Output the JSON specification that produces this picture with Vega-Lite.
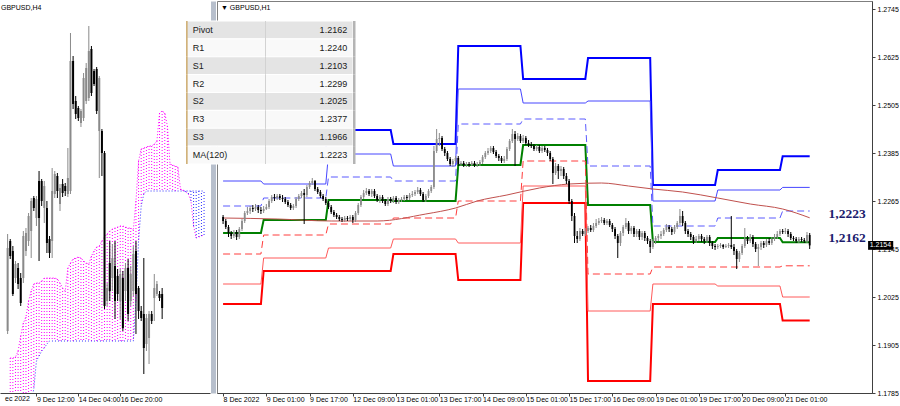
{
"$schema": "https://vega.github.io/schema/vega-lite/v6.json",
"padding": {"left": 0, "right": 0, "top": 0, "bottom": 0},
"background": "#ffffff",
"spacing": 7,
"bounds": "flush",
"config": {
  "font": "Liberation Sans",
  "view": {"stroke": null},
  "axis": {"labelFont": "Liberation Sans", "labelFontSize": 7, "labelColor": "#000000", "domainColor": "#404040", "tickColor": "#404040", "domainWidth": 1, "tickWidth": 1, "grid": false}
},
"datasets": {
"h4": [
{"j":-11,"o":1.2150,"h":1.2247,"l":1.2147,"c":1.2233},
{"j":-10,"o":1.2240,"h":1.2242,"l":1.2222,"c":1.2225},
{"j":-9,"o":1.2230,"h":1.2235,"l":1.2185,"c":1.2187},
{"j":-8,"o":1.2203,"h":1.2220,"l":1.2198,"c":1.2217},
{"j":-7,"o":1.2213,"h":1.2218,"l":1.2192,"c":1.2197},
{"j":-6,"o":1.2203,"h":1.2208,"l":1.2175,"c":1.2178},
{"j":-5,"o":1.2203,"h":1.2250,"l":1.2198,"c":1.2245},
{"j":-4,"o":1.2230,"h":1.2253,"l":1.2225,"c":1.2248},
{"j":-3,"o":1.2240,"h":1.2268,"l":1.2235,"c":1.2265},
{"j":-2,"o":1.2250,"h":1.2283,"l":1.2223,"c":1.2280},
{"j":-1,"o":1.2283,"h":1.2285,"l":1.2270,"c":1.2273},
{"j":0,"o":1.2263,"h":1.2285,"l":1.2255,"c":1.2282},
{"j":1,"o":1.2300,"h":1.2310,"l":1.2220,"c":1.2263},
{"j":2,"o":1.2300,"h":1.2302,"l":1.2275,"c":1.2280},
{"j":3,"o":1.2273,"h":1.2300,"l":1.2258,"c":1.2295},
{"j":4,"o":1.2273,"h":1.2280,"l":1.2228,"c":1.2238},
{"j":5,"o":1.2242,"h":1.2245,"l":1.2223,"c":1.2228},
{"j":6,"o":1.2240,"h":1.2313,"l":1.2223,"c":1.2290},
{"j":7,"o":1.2287,"h":1.2310,"l":1.2283,"c":1.2307},
{"j":8,"o":1.2305,"h":1.2308,"l":1.2283,"c":1.2290},
{"j":9,"o":1.2277,"h":1.2297,"l":1.2270,"c":1.2293},
{"j":10,"o":1.2297,"h":1.2302,"l":1.2284,"c":1.2288},
{"j":11,"o":1.2295,"h":1.2298,"l":1.2285,"c":1.2290},
{"j":12,"o":1.2287,"h":1.2333,"l":1.2284,"c":1.2303},
{"j":13,"o":1.2290,"h":1.2448,"l":1.2287,"c":1.2420},
{"j":14,"o":1.2420,"h":1.2425,"l":1.2372,"c":1.2377},
{"j":15,"o":1.2380,"h":1.2385,"l":1.2362,"c":1.2367},
{"j":16,"o":1.2373,"h":1.2375,"l":1.2360,"c":1.2363},
{"j":17,"o":1.2358,"h":1.2372,"l":1.2354,"c":1.2370},
{"j":18,"o":1.2363,"h":1.2408,"l":1.2360,"c":1.2403},
{"j":19,"o":1.2380,"h":1.2418,"l":1.2377,"c":1.2413},
{"j":20,"o":1.2383,"h":1.2455,"l":1.2380,"c":1.2430},
{"j":21,"o":1.2432,"h":1.2435,"l":1.2385,"c":1.2388},
{"j":22,"o":1.2410,"h":1.2412,"l":1.2395,"c":1.2397},
{"j":23,"o":1.2412,"h":1.2414,"l":1.2367,"c":1.2370},
{"j":24,"o":1.2350,"h":1.2405,"l":1.2303,"c":1.2403},
{"j":25,"o":1.2350,"h":1.2352,"l":1.2305,"c":1.2328},
{"j":26,"o":1.2328,"h":1.2330,"l":1.2172,"c":1.2175},
{"j":27,"o":1.2180,"h":1.2198,"l":1.2175,"c":1.2193},
{"j":28,"o":1.2218,"h":1.2240,"l":1.2180,"c":1.2190},
{"j":29,"o":1.2203,"h":1.2237,"l":1.2190,"c":1.2223},
{"j":30,"o":1.2215,"h":1.2240,"l":1.2162,"c":1.2180},
{"j":31,"o":1.2205,"h":1.2212,"l":1.2180,"c":1.2187},
{"j":32,"o":1.2180,"h":1.2212,"l":1.2162,"c":1.2207},
{"j":33,"o":1.2203,"h":1.2210,"l":1.2150,"c":1.2153},
{"j":34,"o":1.2190,"h":1.2218,"l":1.2180,"c":1.2213},
{"j":35,"o":1.2213,"h":1.2222,"l":1.2160,"c":1.2167},
{"j":36,"o":1.2180,"h":1.2215,"l":1.2175,"c":1.2207},
{"j":37,"o":1.2190,"h":1.2235,"l":1.2185,"c":1.2227},
{"j":38,"o":1.2230,"h":1.2240,"l":1.2147,"c":1.2187},
{"j":39,"o":1.2193,"h":1.2195,"l":1.2162,"c":1.2170},
{"j":40,"o":1.2170,"h":1.2175,"l":1.2160,"c":1.2163},
{"j":41,"o":1.2167,"h":1.2223,"l":1.2107,"c":1.2133},
{"j":42,"o":1.2137,"h":1.2167,"l":1.2130,"c":1.2163},
{"j":43,"o":1.2143,"h":1.2170,"l":1.2117,"c":1.2167},
{"j":44,"o":1.2167,"h":1.2170,"l":1.2157,"c":1.2160},
{"j":45,"o":1.2183,"h":1.2207,"l":1.2160,"c":1.2193},
{"j":46,"o":1.2187,"h":1.2200,"l":1.2185,"c":1.2197},
{"j":47,"o":1.2187,"h":1.2190,"l":1.2180,"c":1.2183},
{"j":48,"o":1.2187,"h":1.2193,"l":1.2162,"c":1.2173}
],
"cloud": [
{"j":-10,"a":1.2123,"b":1.2050},{"j":-9,"a":1.2123,"b":1.2052},{"j":-8,"a":1.2124,"b":1.2054},{"j":-7,"a":1.2130,"b":1.2056},
{"j":-6,"a":1.2145,"b":1.2058},{"j":-5,"a":1.2158,"b":1.2060},{"j":-4,"a":1.2164,"b":1.2065},{"j":-3,"a":1.2180,"b":1.2070},
{"j":-2,"a":1.2190,"b":1.2080},{"j":-1,"a":1.2197,"b":1.2092},{"j":0,"a":1.2198,"b":1.2120},{"j":1,"a":1.2198,"b":1.2125},
{"j":2,"a":1.2200,"b":1.2130},{"j":3,"a":1.2203,"b":1.2133},{"j":4,"a":1.2203,"b":1.2137},{"j":5,"a":1.2203,"b":1.2140},
{"j":6,"a":1.2203,"b":1.2140},{"j":7,"a":1.2203,"b":1.2140},{"j":8,"a":1.2202,"b":1.2140},{"j":9,"a":1.2198,"b":1.2140},
{"j":10,"a":1.2193,"b":1.2140},{"j":11,"a":1.2190,"b":1.2140},{"j":12,"a":1.2213,"b":1.2140},{"j":13,"a":1.2218,"b":1.2140},
{"j":14,"a":1.2222,"b":1.2140},{"j":15,"a":1.2223,"b":1.2140},{"j":16,"a":1.2224,"b":1.2140},{"j":17,"a":1.2223,"b":1.2140},
{"j":18,"a":1.2220,"b":1.2140},{"j":19,"a":1.2218,"b":1.2140},{"j":20,"a":1.2217,"b":1.2140},{"j":21,"a":1.2225,"b":1.2140},
{"j":22,"a":1.2230,"b":1.2140},{"j":23,"a":1.2234,"b":1.2140},{"j":24,"a":1.2235,"b":1.2140},{"j":25,"a":1.2240,"b":1.2140},
{"j":26,"a":1.2244,"b":1.2140},{"j":27,"a":1.2247,"b":1.2140},{"j":28,"a":1.2250,"b":1.2140},{"j":29,"a":1.2252,"b":1.2140},
{"j":30,"a":1.2253,"b":1.2140},{"j":31,"a":1.2254,"b":1.2140},{"j":32,"a":1.2255,"b":1.2140},{"j":33,"a":1.2255,"b":1.2140},
{"j":34,"a":1.2254,"b":1.2140},{"j":35,"a":1.2253,"b":1.2140},{"j":36,"a":1.2253,"b":1.2140},{"j":37,"a":1.2251,"b":1.2140},
{"j":38,"a":1.2280,"b":1.2180},{"j":39,"a":1.2320,"b":1.2240},{"j":40,"a":1.2332,"b":1.2275},{"j":41,"a":1.2333,"b":1.2287},
{"j":42,"a":1.2334,"b":1.2290},{"j":43,"a":1.2335,"b":1.2290},{"j":44,"a":1.2335,"b":1.2290},{"j":45,"a":1.2337,"b":1.2290},
{"j":46,"a":1.2340,"b":1.2290},{"j":47,"a":1.2368,"b":1.2290},{"j":48,"a":1.2370,"b":1.2290},{"j":49,"a":1.2368,"b":1.2290},
{"j":50,"a":1.2355,"b":1.2290},{"j":51,"a":1.2317,"b":1.2290},{"j":52,"a":1.2316,"b":1.2290},{"j":53,"a":1.2315,"b":1.2290},
{"j":54,"a":1.2314,"b":1.2290},{"j":55,"a":1.2292,"b":1.2290},{"j":56,"a":1.2291,"b":1.2290},{"j":57,"a":1.2289,"b":1.2290},
{"j":58,"a":1.2287,"b":1.2290},{"j":59,"a":1.2280,"b":1.2290},{"j":60,"a":1.2255,"b":1.2290},{"j":61,"a":1.2243,"b":1.2290},
{"j":62,"a":1.2244,"b":1.2290},{"j":63,"a":1.2245,"b":1.2290},{"j":64,"a":1.2246,"b":1.2290}
],
"h1": [
{"i":0,"o":1.2225,"h":1.2230,"l":1.22075,"c":1.2215},
{"i":1,"o":1.2215,"h":1.2220,"l":1.2195,"c":1.2200},
{"i":2,"o":1.2200,"h":1.2205,"l":1.2175,"c":1.2185},
{"i":3,"o":1.2185,"h":1.2190,"l":1.2170,"c":1.21775},
{"i":4,"o":1.21775,"h":1.21925,"l":1.21725,"c":1.21875},
{"i":5,"o":1.21875,"h":1.21925,"l":1.21675,"c":1.2175},
{"i":6,"o":1.2175,"h":1.2200,"l":1.2170,"c":1.2195},
{"i":7,"o":1.2195,"h":1.2220,"l":1.2190,"c":1.2215},
{"i":8,"o":1.2215,"h":1.2240,"l":1.2210,"c":1.2235},
{"i":9,"o":1.2235,"h":1.2250,"l":1.2230,"c":1.2240},
{"i":10,"o":1.2240,"h":1.22525,"l":1.22325,"c":1.22475},
{"i":11,"o":1.22475,"h":1.2255,"l":1.22375,"c":1.2245},
{"i":12,"o":1.2245,"h":1.22575,"l":1.2240,"c":1.2250},
{"i":13,"o":1.2250,"h":1.2255,"l":1.2235,"c":1.22425},
{"i":14,"o":1.22425,"h":1.2250,"l":1.22325,"c":1.2240},
{"i":15,"o":1.2240,"h":1.22525,"l":1.2235,"c":1.2245},
{"i":16,"o":1.2245,"h":1.22575,"l":1.22425,"c":1.2250},
{"i":17,"o":1.2250,"h":1.2270,"l":1.2245,"c":1.2265},
{"i":18,"o":1.2265,"h":1.2280,"l":1.2260,"c":1.2275},
{"i":19,"o":1.2275,"h":1.22825,"l":1.2265,"c":1.22725},
{"i":20,"o":1.22725,"h":1.22825,"l":1.22675,"c":1.22775},
{"i":21,"o":1.22775,"h":1.22825,"l":1.22675,"c":1.22725},
{"i":22,"o":1.22725,"h":1.2280,"l":1.22625,"c":1.2270},
{"i":23,"o":1.2270,"h":1.2275,"l":1.22575,"c":1.22625},
{"i":24,"o":1.22625,"h":1.22675,"l":1.2250,"c":1.2255},
{"i":25,"o":1.2255,"h":1.2260,"l":1.22425,"c":1.22475},
{"i":26,"o":1.22475,"h":1.22575,"l":1.22425,"c":1.22525},
{"i":27,"o":1.22525,"h":1.2275,"l":1.22475,"c":1.2270},
{"i":28,"o":1.2270,"h":1.22825,"l":1.2265,"c":1.22775},
{"i":29,"o":1.22775,"h":1.2290,"l":1.22725,"c":1.2285},
{"i":30,"o":1.2285,"h":1.2295,"l":1.22075,"c":1.2280},
{"i":31,"o":1.2280,"h":1.2305,"l":1.2275,"c":1.2300},
{"i":32,"o":1.2300,"h":1.2315,"l":1.2295,"c":1.2310},
{"i":33,"o":1.2310,"h":1.23225,"l":1.2305,"c":1.2315},
{"i":34,"o":1.2315,"h":1.23175,"l":1.2290,"c":1.2295},
{"i":35,"o":1.2295,"h":1.2300,"l":1.22825,"c":1.22875},
{"i":36,"o":1.22875,"h":1.22925,"l":1.22725,"c":1.22775},
{"i":37,"o":1.22775,"h":1.22825,"l":1.2265,"c":1.2270},
{"i":38,"o":1.2270,"h":1.2275,"l":1.2255,"c":1.2260},
{"i":39,"o":1.2260,"h":1.2265,"l":1.2245,"c":1.2250},
{"i":40,"o":1.2250,"h":1.2255,"l":1.22325,"c":1.22375},
{"i":41,"o":1.22375,"h":1.22425,"l":1.2225,"c":1.2230},
{"i":42,"o":1.2230,"h":1.2235,"l":1.2220,"c":1.2225},
{"i":43,"o":1.2225,"h":1.2230,"l":1.2215,"c":1.2220},
{"i":44,"o":1.2220,"h":1.2225,"l":1.22125,"c":1.22175},
{"i":45,"o":1.22175,"h":1.22275,"l":1.22125,"c":1.22225},
{"i":46,"o":1.22225,"h":1.22275,"l":1.2215,"c":1.2220},
{"i":47,"o":1.2220,"h":1.2230,"l":1.2215,"c":1.2225},
{"i":48,"o":1.2225,"h":1.2230,"l":1.2210,"c":1.22175},
{"i":49,"o":1.22175,"h":1.2240,"l":1.22125,"c":1.2235},
{"i":50,"o":1.2235,"h":1.2260,"l":1.2230,"c":1.2255},
{"i":51,"o":1.2255,"h":1.2280,"l":1.2250,"c":1.2275},
{"i":52,"o":1.2275,"h":1.22925,"l":1.2270,"c":1.2285},
{"i":53,"o":1.2285,"h":1.22975,"l":1.2280,"c":1.2290},
{"i":54,"o":1.2290,"h":1.2295,"l":1.22775,"c":1.22825},
{"i":55,"o":1.22825,"h":1.2295,"l":1.2275,"c":1.2290},
{"i":56,"o":1.2290,"h":1.2295,"l":1.22725,"c":1.22775},
{"i":57,"o":1.22775,"h":1.22825,"l":1.22625,"c":1.22675},
{"i":58,"o":1.22675,"h":1.2280,"l":1.2260,"c":1.2275},
{"i":59,"o":1.2275,"h":1.2280,"l":1.2260,"c":1.2265},
{"i":60,"o":1.2265,"h":1.2270,"l":1.22525,"c":1.22575},
{"i":61,"o":1.22575,"h":1.2275,"l":1.22525,"c":1.2270},
{"i":62,"o":1.2270,"h":1.2275,"l":1.2260,"c":1.2265},
{"i":63,"o":1.2265,"h":1.22775,"l":1.2260,"c":1.22725},
{"i":64,"o":1.22725,"h":1.22775,"l":1.22575,"c":1.22625},
{"i":65,"o":1.22625,"h":1.22725,"l":1.22575,"c":1.22675},
{"i":66,"o":1.22675,"h":1.2275,"l":1.22625,"c":1.2270},
{"i":67,"o":1.2270,"h":1.2280,"l":1.2265,"c":1.2275},
{"i":68,"o":1.2275,"h":1.2280,"l":1.22675,"c":1.22725},
{"i":69,"o":1.22725,"h":1.2285,"l":1.22675,"c":1.2280},
{"i":70,"o":1.2280,"h":1.2290,"l":1.2275,"c":1.22825},
{"i":71,"o":1.22825,"h":1.22925,"l":1.22775,"c":1.22875},
{"i":72,"o":1.22875,"h":1.2300,"l":1.22825,"c":1.22925},
{"i":73,"o":1.22925,"h":1.22975,"l":1.22775,"c":1.22825},
{"i":74,"o":1.22825,"h":1.22875,"l":1.22625,"c":1.22675},
{"i":75,"o":1.22675,"h":1.22825,"l":1.22625,"c":1.22775},
{"i":76,"o":1.22775,"h":1.2295,"l":1.22725,"c":1.2290},
{"i":77,"o":1.2290,"h":1.2305,"l":1.2285,"c":1.2300},
{"i":78,"o":1.2300,"h":1.24025,"l":1.2295,"c":1.2390},
{"i":79,"o":1.2390,"h":1.2445,"l":1.2385,"c":1.2420},
{"i":80,"o":1.2420,"h":1.2435,"l":1.24025,"c":1.24225},
{"i":81,"o":1.24225,"h":1.24275,"l":1.2390,"c":1.2395},
{"i":82,"o":1.2395,"h":1.2400,"l":1.23775,"c":1.2385},
{"i":83,"o":1.2385,"h":1.2390,"l":1.2365,"c":1.2370},
{"i":84,"o":1.2370,"h":1.2375,"l":1.23525,"c":1.23575},
{"i":85,"o":1.23575,"h":1.2370,"l":1.2350,"c":1.2365},
{"i":86,"o":1.2365,"h":1.23775,"l":1.2360,"c":1.23725},
{"i":87,"o":1.23725,"h":1.23775,"l":1.23525,"c":1.23575},
{"i":88,"o":1.23575,"h":1.2365,"l":1.23525,"c":1.2360},
{"i":89,"o":1.2360,"h":1.2365,"l":1.2350,"c":1.2355},
{"i":90,"o":1.2355,"h":1.23625,"l":1.2350,"c":1.23575},
{"i":91,"o":1.23575,"h":1.23625,"l":1.2350,"c":1.2355},
{"i":92,"o":1.2355,"h":1.2365,"l":1.23525,"c":1.2360},
{"i":93,"o":1.2360,"h":1.2365,"l":1.2350,"c":1.2355},
{"i":94,"o":1.2355,"h":1.23625,"l":1.2350,"c":1.23575},
{"i":95,"o":1.23575,"h":1.23675,"l":1.23525,"c":1.23625},
{"i":96,"o":1.23625,"h":1.2380,"l":1.23575,"c":1.2375},
{"i":97,"o":1.2375,"h":1.2390,"l":1.2370,"c":1.2385},
{"i":98,"o":1.2385,"h":1.23975,"l":1.2380,"c":1.2390},
{"i":99,"o":1.2390,"h":1.24025,"l":1.2385,"c":1.23975},
{"i":100,"o":1.23975,"h":1.24025,"l":1.23825,"c":1.23875},
{"i":101,"o":1.23875,"h":1.23925,"l":1.23725,"c":1.23775},
{"i":102,"o":1.23775,"h":1.23825,"l":1.2365,"c":1.23725},
{"i":103,"o":1.23725,"h":1.23775,"l":1.2360,"c":1.2365},
{"i":104,"o":1.2365,"h":1.23775,"l":1.2360,"c":1.2370},
{"i":105,"o":1.2370,"h":1.2400,"l":1.2365,"c":1.2395},
{"i":106,"o":1.2395,"h":1.2420,"l":1.2390,"c":1.2415},
{"i":107,"o":1.2415,"h":1.2445,"l":1.2410,"c":1.24325},
{"i":108,"o":1.24325,"h":1.2440,"l":1.23525,"c":1.2420},
{"i":109,"o":1.2420,"h":1.2435,"l":1.2415,"c":1.24275},
{"i":110,"o":1.24275,"h":1.24325,"l":1.2410,"c":1.2415},
{"i":111,"o":1.2415,"h":1.2430,"l":1.2410,"c":1.24225},
{"i":112,"o":1.24225,"h":1.24275,"l":1.2405,"c":1.2410},
{"i":113,"o":1.2410,"h":1.24175,"l":1.2400,"c":1.2405},
{"i":114,"o":1.2405,"h":1.24125,"l":1.23975,"c":1.24025},
{"i":115,"o":1.24025,"h":1.24075,"l":1.2390,"c":1.2395},
{"i":116,"o":1.2395,"h":1.2405,"l":1.2390,"c":1.2400},
{"i":117,"o":1.2400,"h":1.2405,"l":1.2385,"c":1.2390},
{"i":118,"o":1.2390,"h":1.24025,"l":1.2385,"c":1.23975},
{"i":119,"o":1.23975,"h":1.24025,"l":1.23875,"c":1.23925},
{"i":120,"o":1.23925,"h":1.23975,"l":1.23775,"c":1.2385},
{"i":121,"o":1.2385,"h":1.2390,"l":1.2365,"c":1.2370},
{"i":122,"o":1.2370,"h":1.2375,"l":1.23075,"c":1.2335},
{"i":123,"o":1.2335,"h":1.2360,"l":1.2330,"c":1.23525},
{"i":124,"o":1.23525,"h":1.23575,"l":1.2320,"c":1.2340},
{"i":125,"o":1.2340,"h":1.23525,"l":1.23275,"c":1.2345},
{"i":126,"o":1.2345,"h":1.2350,"l":1.2320,"c":1.23275},
{"i":127,"o":1.23275,"h":1.2335,"l":1.23075,"c":1.2315},
{"i":128,"o":1.2315,"h":1.2320,"l":1.22575,"c":1.2265},
{"i":129,"o":1.2265,"h":1.2270,"l":1.2215,"c":1.22275},
{"i":130,"o":1.22275,"h":1.2235,"l":1.2160,"c":1.21775},
{"i":131,"o":1.21775,"h":1.2190,"l":1.2160,"c":1.2170},
{"i":132,"o":1.2170,"h":1.21975,"l":1.2165,"c":1.2190},
{"i":133,"o":1.2190,"h":1.2195,"l":1.21775,"c":1.21825},
{"i":134,"o":1.21825,"h":1.21975,"l":1.21775,"c":1.2190},
{"i":135,"o":1.2190,"h":1.22025,"l":1.2185,"c":1.21975},
{"i":136,"o":1.21975,"h":1.2205,"l":1.21875,"c":1.21925},
{"i":137,"o":1.21925,"h":1.2210,"l":1.21875,"c":1.22025},
{"i":138,"o":1.22025,"h":1.2220,"l":1.21975,"c":1.2210},
{"i":139,"o":1.2210,"h":1.22225,"l":1.2205,"c":1.2215},
{"i":140,"o":1.2215,"h":1.2225,"l":1.2210,"c":1.22175},
{"i":141,"o":1.22175,"h":1.22225,"l":1.2205,"c":1.2210},
{"i":142,"o":1.2210,"h":1.2220,"l":1.2205,"c":1.2215},
{"i":143,"o":1.2215,"h":1.2220,"l":1.2200,"c":1.2205},
{"i":144,"o":1.2205,"h":1.2210,"l":1.21875,"c":1.2195},
{"i":145,"o":1.2195,"h":1.2200,"l":1.2170,"c":1.21775},
{"i":146,"o":1.21775,"h":1.21825,"l":1.21225,"c":1.2160},
{"i":147,"o":1.2160,"h":1.2190,"l":1.21525,"c":1.2185},
{"i":148,"o":1.2185,"h":1.2205,"l":1.21775,"c":1.2200},
{"i":149,"o":1.2200,"h":1.22225,"l":1.2195,"c":1.2210},
{"i":150,"o":1.2210,"h":1.2215,"l":1.21825,"c":1.2190},
{"i":151,"o":1.2190,"h":1.22025,"l":1.21825,"c":1.21975},
{"i":152,"o":1.21975,"h":1.22025,"l":1.2175,"c":1.21825},
{"i":153,"o":1.21825,"h":1.2195,"l":1.2175,"c":1.2190},
{"i":154,"o":1.2190,"h":1.2195,"l":1.21675,"c":1.2175},
{"i":155,"o":1.2175,"h":1.2190,"l":1.21675,"c":1.2185},
{"i":156,"o":1.2185,"h":1.2190,"l":1.2165,"c":1.21725},
{"i":157,"o":1.21725,"h":1.21775,"l":1.21575,"c":1.2165},
{"i":158,"o":1.2165,"h":1.2170,"l":1.2135,"c":1.2150},
{"i":159,"o":1.2150,"h":1.2170,"l":1.2145,"c":1.2165},
{"i":160,"o":1.2165,"h":1.21775,"l":1.21575,"c":1.21725},
{"i":161,"o":1.21725,"h":1.21825,"l":1.2165,"c":1.21775},
{"i":162,"o":1.21775,"h":1.2190,"l":1.2170,"c":1.21825},
{"i":163,"o":1.21825,"h":1.21975,"l":1.21775,"c":1.21925},
{"i":164,"o":1.21925,"h":1.22075,"l":1.21875,"c":1.2200},
{"i":165,"o":1.2200,"h":1.2205,"l":1.21875,"c":1.2195},
{"i":166,"o":1.2195,"h":1.2200,"l":1.2180,"c":1.21875},
{"i":167,"o":1.21875,"h":1.2205,"l":1.21825,"c":1.2200},
{"i":168,"o":1.2200,"h":1.2215,"l":1.2195,"c":1.2210},
{"i":169,"o":1.2210,"h":1.2245,"l":1.2205,"c":1.22275},
{"i":170,"o":1.22275,"h":1.2240,"l":1.22025,"c":1.2210},
{"i":171,"o":1.2210,"h":1.2215,"l":1.21825,"c":1.2190},
{"i":172,"o":1.2190,"h":1.2195,"l":1.2175,"c":1.21825},
{"i":173,"o":1.21825,"h":1.21875,"l":1.21675,"c":1.2175},
{"i":174,"o":1.2175,"h":1.2180,"l":1.21575,"c":1.2165},
{"i":175,"o":1.2165,"h":1.21775,"l":1.2160,"c":1.2170},
{"i":176,"o":1.2170,"h":1.21825,"l":1.2165,"c":1.21775},
{"i":177,"o":1.21775,"h":1.21825,"l":1.21625,"c":1.2170},
{"i":178,"o":1.2170,"h":1.2175,"l":1.21575,"c":1.2165},
{"i":179,"o":1.2165,"h":1.2180,"l":1.2160,"c":1.2175},
{"i":180,"o":1.2175,"h":1.2180,"l":1.21525,"c":1.2160},
{"i":181,"o":1.2160,"h":1.2165,"l":1.2145,"c":1.21525},
{"i":182,"o":1.21525,"h":1.21575,"l":1.21425,"c":1.2150},
{"i":183,"o":1.2150,"h":1.21575,"l":1.2145,"c":1.21525},
{"i":184,"o":1.21525,"h":1.2160,"l":1.21475,"c":1.2155},
{"i":185,"o":1.2155,"h":1.21575,"l":1.2145,"c":1.2150},
{"i":186,"o":1.2150,"h":1.21575,"l":1.21475,"c":1.21525},
{"i":187,"o":1.21525,"h":1.2160,"l":1.21475,"c":1.2155},
{"i":188,"o":1.2155,"h":1.22275,"l":1.2145,"c":1.2150},
{"i":189,"o":1.2150,"h":1.21575,"l":1.2130,"c":1.2140},
{"i":190,"o":1.2140,"h":1.2145,"l":1.2095,"c":1.2120},
{"i":191,"o":1.2120,"h":1.2140,"l":1.21125,"c":1.2135},
{"i":192,"o":1.2135,"h":1.21575,"l":1.2130,"c":1.21525},
{"i":193,"o":1.21525,"h":1.21975,"l":1.21475,"c":1.2170},
{"i":194,"o":1.2170,"h":1.21775,"l":1.21575,"c":1.2165},
{"i":195,"o":1.2165,"h":1.21825,"l":1.2160,"c":1.2175},
{"i":196,"o":1.2175,"h":1.2180,"l":1.2150,"c":1.21575},
{"i":197,"o":1.21575,"h":1.21625,"l":1.21375,"c":1.2145},
{"i":198,"o":1.2145,"h":1.21575,"l":1.21025,"c":1.2150},
{"i":199,"o":1.2150,"h":1.2165,"l":1.21425,"c":1.2160},
{"i":200,"o":1.2160,"h":1.2165,"l":1.21475,"c":1.2155},
{"i":201,"o":1.2155,"h":1.2170,"l":1.2150,"c":1.2165},
{"i":202,"o":1.2165,"h":1.21725,"l":1.2155,"c":1.2160},
{"i":203,"o":1.2160,"h":1.2175,"l":1.2155,"c":1.2170},
{"i":204,"o":1.2170,"h":1.21825,"l":1.2165,"c":1.2175},
{"i":205,"o":1.2175,"h":1.2190,"l":1.2170,"c":1.21825},
{"i":206,"o":1.21825,"h":1.2195,"l":1.21775,"c":1.2190},
{"i":207,"o":1.2190,"h":1.2195,"l":1.21825,"c":1.21875},
{"i":208,"o":1.21875,"h":1.21975,"l":1.21825,"c":1.2190},
{"i":209,"o":1.2190,"h":1.2195,"l":1.2175,"c":1.21825},
{"i":210,"o":1.21825,"h":1.21875,"l":1.21675,"c":1.21725},
{"i":211,"o":1.21725,"h":1.21775,"l":1.2165,"c":1.2170},
{"i":212,"o":1.2170,"h":1.2175,"l":1.2160,"c":1.2165},
{"i":213,"o":1.2165,"h":1.2175,"l":1.2160,"c":1.2170},
{"i":214,"o":1.2170,"h":1.2175,"l":1.21625,"c":1.21675},
{"i":215,"o":1.21675,"h":1.21725,"l":1.2160,"c":1.2165},
{"i":216,"o":1.2165,"h":1.21875,"l":1.2160,"c":1.2180},
{"i":217,"o":1.2180,"h":1.2185,"l":1.2145,"c":1.2154}
],
"levels": [
{"i":0,"R3":1.2390,"R2":1.2315,"R1":1.22525,"P":1.2185,"S1":1.21325,"S2":1.20575,"S3":1.20075},
{"i":14,"R3":1.2390,"R2":1.2315,"R1":1.22525,"P":1.2185,"S1":1.21325,"S2":1.20575,"S3":1.20075},
{"i":15,"R3":1.2395,"R2":1.23075,"R1":1.22725,"P":1.22175,"S1":1.2180,"S2":1.21225,"S3":1.2090},
{"i":38,"R3":1.2395,"R2":1.23075,"R1":1.22725,"P":1.22175,"S1":1.2180,"S2":1.21225,"S3":1.2090},
{"i":39,"R3":1.24425,"R2":1.23825,"R1":1.2325,"P":1.22675,"S1":1.22075,"S2":1.21475,"S3":1.2090},
{"i":62,"R3":1.24425,"R2":1.23825,"R1":1.2325,"P":1.22675,"S1":1.22075,"S2":1.21475,"S3":1.2090},
{"i":63,"R3":1.24075,"R2":1.23525,"R1":1.2315,"P":1.2265,"S1":1.22225,"S2":1.2170,"S3":1.21325},
{"i":86,"R3":1.24075,"R2":1.23525,"R1":1.2315,"P":1.2265,"S1":1.22225,"S2":1.2170,"S3":1.21325},
{"i":87,"R3":1.26525,"R2":1.2545,"R1":1.24575,"P":1.2355,"S1":1.2265,"S2":1.2160,"S3":1.20675},
{"i":110,"R3":1.26525,"R2":1.2545,"R1":1.24575,"P":1.2355,"S1":1.2265,"S2":1.2160,"S3":1.20675},
{"i":111,"R3":1.2570,"R2":1.2510,"R1":1.2470,"P":1.2405,"S1":1.2365,"S2":1.23025,"S3":1.2260},
{"i":134,"R3":1.2570,"R2":1.2510,"R1":1.2470,"P":1.2405,"S1":1.2365,"S2":1.23025,"S3":1.2260},
{"i":135,"R3":1.26225,"R2":1.2515,"R1":1.23525,"P":1.2255,"S1":1.20825,"S2":1.1990,"S3":1.1815},
{"i":158,"R3":1.26225,"R2":1.2515,"R1":1.23525,"P":1.2255,"S1":1.20825,"S2":1.1990,"S3":1.1815},
{"i":159,"R3":1.2305,"R2":1.2265,"R1":1.22025,"P":1.21625,"S1":1.2100,"S2":1.20575,"S3":1.20075},
{"i":182,"R3":1.2305,"R2":1.2265,"R1":1.22025,"P":1.21625,"S1":1.2100,"S2":1.20575,"S3":1.20075},
{"i":183,"R3":1.23425,"R2":1.22925,"R1":1.22225,"P":1.21725,"S1":1.2100,"S2":1.20525,"S3":1.20075},
{"i":206,"R3":1.23425,"R2":1.22925,"R1":1.22225,"P":1.21725,"S1":1.2100,"S2":1.20525,"S3":1.20075},
{"i":207,"R3":1.2377,"R2":1.2299,"R1":1.2240,"P":1.2162,"S1":1.2103,"S2":1.2025,"S3":1.1966},
{"i":217,"R3":1.2377,"R2":1.2299,"R1":1.2240,"P":1.2162,"S1":1.2103,"S2":1.2025,"S3":1.1966}
],
"ma": [
{"i":0,"v":1.22225},{"i":20,"v":1.2220},{"i":40,"v":1.2215},{"i":57,"v":1.2215},{"i":75,"v":1.22325},{"i":86,"v":1.22475},
{"i":94,"v":1.2265},{"i":105,"v":1.2280},{"i":117,"v":1.22975},{"i":128,"v":1.23075},{"i":140,"v":1.2310},{"i":150,"v":1.23025},
{"i":159,"v":1.2295},{"i":170,"v":1.22875},{"i":183,"v":1.22725},{"i":195,"v":1.22575},{"i":207,"v":1.2245},{"i":217,"v":1.2223}
],
"tags": [{"lbl":"1,2223","p":1.2223},{"lbl":"1,2162","p":1.2162}],
"last": [{"lbl":"1.2154","p":1.2154}],
"firstdate": [{"t":"ec 2022"}],
"tbl": [
{"name":"Pivot","val":"1.2162"},{"name":"R1","val":"1.2240"},{"name":"S1","val":"1.2103"},{"name":"R2","val":"1.2299"},
{"name":"S2","val":"1.2025"},{"name":"R3","val":"1.2377"},{"name":"S3","val":"1.1966"},{"name":"MA(120)","val":"1.2223"}
]
},
"hconcat": [
{
  "width": 210, "height": 392,
  "title": {"text": "GBPUSD,H4", "anchor": "start", "frame": "group", "offset": -10, "fontSize": 7, "fontWeight": "normal", "font": "Liberation Sans", "color": "#000000", "dx": 1},
  "layer": [
    {"data": {"name": "cloud"},
     "mark": {"type": "rule", "strokeDash": [1, 2], "strokeWidth": 1, "clip": true},
     "encoding": {
       "x": {"field": "j", "type": "quantitative", "title": null, "scale": {"domain": [-12, 64.36], "nice": false, "zero": false},
             "axis": {"values": [0, 16, 32], "labelExpr": "['9 Dec 12:00','14 Dec 04:00','16 Dec 20:00'][datum.value/16]", "labelAlign": "left", "labelFlush": false, "labelOverlap": false, "labelBound": false, "labelPadding": -1, "tickSize": 3}},
       "y": {"field": "a", "type": "quantitative", "title": null, "scale": {"domain": [1.2088, 1.2480], "nice": false, "zero": false},
             "axis": {"orient": "right", "values": [], "labels": false, "ticks": false, "domainColor": "#b7bfcc", "domainWidth": 5, "offset": 3}},
       "y2": {"field": "b"},
       "color": {"condition": {"test": "datum.a > datum.b", "value": "#ff00ff"}, "value": "#3030ff"}
     }},
    {"data": {"name": "cloud"},
     "mark": {"type": "line", "strokeDash": [1, 2], "color": "#ff00ff", "strokeWidth": 1, "clip": true},
     "encoding": {"x": {"field": "j", "type": "quantitative", "title": null}, "y": {"field": "a", "type": "quantitative", "title": null}}},
    {"data": {"name": "cloud"},
     "mark": {"type": "line", "strokeDash": [1, 2], "color": "#3030ff", "strokeWidth": 1, "clip": true},
     "encoding": {"x": {"field": "j", "type": "quantitative", "title": null}, "y": {"field": "b", "type": "quantitative", "title": null}}},
    {"data": {"name": "h4"},
     "mark": {"type": "rule", "strokeWidth": 1, "clip": true},
     "encoding": {"x": {"field": "j", "type": "quantitative", "title": null}, "y": {"field": "h", "type": "quantitative", "title": null}, "y2": {"field": "l"},
       "color": {"condition": {"test": "datum.c < datum.o", "value": "#000000"}, "value": "#8a8a8a"}}},
    {"data": {"name": "h4"},
     "mark": {"type": "bar", "size": 2, "clip": true},
     "encoding": {"x": {"field": "j", "type": "quantitative", "title": null}, "y": {"field": "o", "type": "quantitative", "title": null}, "y2": {"field": "c"},
       "color": {"condition": {"test": "datum.c < datum.o", "value": "#000000"}, "value": "#8a8a8a"}}},
    {"data": {"name": "firstdate"},
     "mark": {"type": "text", "align": "left", "baseline": "middle", "fontSize": 7, "font": "Liberation Sans", "color": "#000000"},
     "encoding": {"x": {"datum": -12}, "y": {"datum": 1.2082}, "text": {"field": "t"}}}
  ]
},
{
  "width": 655, "height": 392,
  "view": {"stroke": "#7f7f7f"},
  "title": {"text": "▼ GBPUSD,H1", "anchor": "start", "frame": "group", "offset": -10, "fontSize": 7, "fontWeight": "normal", "font": "Liberation Sans", "color": "#000000", "dx": 4},
  "resolve": {"scale": {"x": "independent", "y": "independent", "color": "independent"}},
  "layer": [
    {"layer": [
      {"data": {"name": "levels"},
       "transform": [{"fold": ["R3", "R2", "R1", "P", "S1", "S2", "S3"], "as": ["lvl", "v"]}, {"filter": {"field": "lvl", "oneOf": ["R3", "P", "S3"]}}],
       "mark": {"type": "line", "strokeWidth": 2},
       "encoding": {
         "x": {"field": "i", "type": "quantitative", "title": null, "scale": {"domain": [-0.4, 238.2], "nice": false, "zero": false},
               "axis": {"values": [0, 16, 32, 48, 64, 80, 96, 112, 128, 144, 160, 176, 192, 208], "labelExpr": "['8 Dec 2022','9 Dec 01:00','9 Dec 17:00','12 Dec 09:00','13 Dec 01:00','13 Dec 17:00','14 Dec 09:00','15 Dec 01:00','15 Dec 17:00','16 Dec 09:00','19 Dec 01:00','19 Dec 17:00','20 Dec 09:00','21 Dec 01:00'][datum.value/16]", "labelAlign": "left", "labelFlush": false, "labelOverlap": false, "labelBound": false, "tickSize": 3, "labelPadding": -1}},
         "y": {"field": "v", "type": "quantitative", "title": null, "scale": {"domain": [1.1785, 1.2765], "nice": false, "zero": false},
               "axis": {"orient": "right", "values": [1.1785, 1.1845, 1.1905, 1.1965, 1.2025, 1.2085, 1.2145, 1.2205, 1.2265, 1.2325, 1.2385, 1.2445, 1.2505, 1.2565, 1.2625, 1.2685, 1.2745], "format": ".4f", "tickSize": 3, "labelPadding": 2}},
         "detail": {"field": "lvl"},
         "color": {"field": "lvl", "type": "nominal", "legend": null, "scale": {"domain": ["R3", "R2", "R1", "P", "S1", "S2", "S3"], "range": ["#0000ff", "#4646ff", "#5a5aff", "#008000", "#ff3c3c", "#ff5a5a", "#ff0000"]}}
       }},
      {"data": {"name": "levels"},
       "transform": [{"fold": ["R3", "R2", "R1", "P", "S1", "S2", "S3"], "as": ["lvl", "v"]}, {"filter": {"field": "lvl", "oneOf": ["R2", "S2"]}}],
       "mark": {"type": "line", "strokeWidth": 1},
       "encoding": {"x": {"field": "i", "type": "quantitative", "title": null}, "y": {"field": "v", "type": "quantitative", "title": null}, "detail": {"field": "lvl"},
         "color": {"field": "lvl", "type": "nominal", "legend": null}}},
      {"data": {"name": "levels"},
       "transform": [{"fold": ["R3", "R2", "R1", "P", "S1", "S2", "S3"], "as": ["lvl", "v"]}, {"filter": {"field": "lvl", "oneOf": ["R1", "S1"]}}],
       "mark": {"type": "line", "strokeWidth": 1, "strokeDash": [7, 4]},
       "encoding": {"x": {"field": "i", "type": "quantitative", "title": null}, "y": {"field": "v", "type": "quantitative", "title": null}, "detail": {"field": "lvl"},
         "color": {"field": "lvl", "type": "nominal", "legend": null}}},
      {"data": {"name": "ma"},
       "mark": {"type": "line", "strokeWidth": 1, "color": "#c0504d", "interpolate": "monotone"},
       "encoding": {"x": {"field": "i", "type": "quantitative", "title": null}, "y": {"field": "v", "type": "quantitative", "title": null}}},
      {"data": {"name": "h1"},
       "mark": {"type": "rule", "strokeWidth": 1},
       "encoding": {"x": {"field": "i", "type": "quantitative", "title": null}, "y": {"field": "h", "type": "quantitative", "title": null}, "y2": {"field": "l"},
         "color": {"condition": {"test": "datum.c < datum.o", "value": "#000000"}, "value": "#8c8c8c"}}},
      {"data": {"name": "h1"},
       "mark": {"type": "bar", "size": 1.8},
       "encoding": {"x": {"field": "i", "type": "quantitative", "title": null}, "y": {"field": "o", "type": "quantitative", "title": null}, "y2": {"field": "c"},
         "color": {"condition": {"test": "datum.c < datum.o", "value": "#000000"}, "value": "#8c8c8c"}}},
      {"data": {"name": "tags"},
       "mark": {"type": "text", "align": "left", "baseline": "alphabetic", "font": "Liberation Serif", "fontWeight": "bold", "fontSize": 13.5, "color": "#1c1c6e"},
       "encoding": {"x": {"datum": 224}, "y": {"field": "p", "type": "quantitative", "title": null}, "text": {"field": "lbl"}}},
      {"data": {"name": "last"},
       "mark": {"type": "rect", "color": "#000000"},
       "encoding": {"x": {"datum": 238.6}, "x2": {"datum": 247.9}, "y": {"datum": 1.2165}, "y2": {"datum": 1.2143}}},
      {"data": {"name": "last"},
       "mark": {"type": "text", "align": "left", "baseline": "middle", "fontSize": 7, "color": "#ffffff"},
       "encoding": {"x": {"datum": 239.2}, "y": {"field": "p", "type": "quantitative", "title": null}, "text": {"field": "lbl"}}}
    ]},
    {"data": {"name": "tbl"},
     "layer": [
      {"mark": {"type": "rect", "stroke": "#ffffff", "strokeWidth": 1},
       "encoding": {
         "x": {"datum": 0, "type": "quantitative", "scale": {"domain": [0, 1], "range": [-31, 136]}, "axis": null},
         "x2": {"datum": 1},
         "y": {"field": "name", "type": "nominal", "sort": null, "axis": null, "scale": {"type": "band", "domain": ["Pivot", "R1", "S1", "R2", "S2", "R3", "S3", "MA(120)"], "range": [20, 163], "paddingInner": 0, "paddingOuter": 0}},
         "color": {"field": "name", "type": "nominal", "legend": null, "scale": {"domain": ["Pivot", "R1", "S1", "R2", "S2", "R3", "S3", "MA(120)"], "range": ["#e4e4e4", "#f9f9f9", "#e4e4e4", "#f9f9f9", "#e4e4e4", "#f9f9f9", "#e4e4e4", "#f9f9f9"]}}
       }},
      {"mark": {"type": "rect", "color": "#d2d2d2"},
       "encoding": {"x": {"datum": 0.473}, "x2": {"datum": 0.479}, "y": {"field": "name", "type": "nominal", "sort": null}}},
      {"mark": {"type": "rect", "color": "#d1b27a"},
       "encoding": {"x": {"datum": 0}, "x2": {"datum": 0.01}, "y": {"field": "name", "type": "nominal", "sort": null}}},
      {"mark": {"type": "rect", "color": "#b4b4b4"},
       "encoding": {"x": {"datum": 1}, "x2": {"datum": 1.015}, "y": {"field": "name", "type": "nominal", "sort": null}}},
      {"mark": {"type": "text", "align": "left", "baseline": "middle", "fontSize": 9, "color": "#1a1a1a"},
       "encoding": {"x": {"datum": 0.04}, "y": {"field": "name", "type": "nominal", "sort": null}, "text": {"field": "name"}}},
      {"mark": {"type": "text", "align": "right", "baseline": "middle", "fontSize": 9, "color": "#1a1a1a"},
       "encoding": {"x": {"datum": 0.965}, "y": {"field": "name", "type": "nominal", "sort": null}, "text": {"field": "val"}}}
     ]}
  ]
}
]
}
